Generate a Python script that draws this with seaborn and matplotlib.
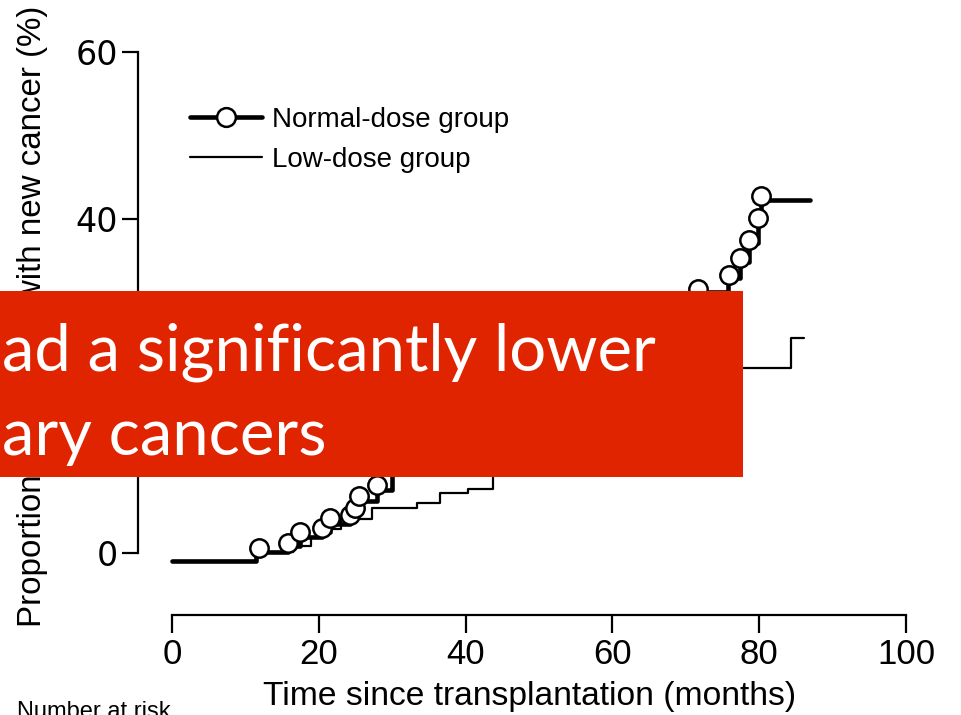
import matplotlib
matplotlib.use('Agg')
import matplotlib.pyplot as plt
import seaborn as sns
from matplotlib.lines import Line2D
from matplotlib.patches import Rectangle
from matplotlib import font_manager

sns.set_theme(style='ticks')
plt.rcParams['font.family'] = ['Liberation Sans', 'DejaVu Sans']
plt.rcParams['axes.edgecolor'] = 'black'
plt.rcParams['xtick.color'] = 'black'
plt.rcParams['ytick.color'] = 'black'
plt.rcParams['text.color'] = 'black'
plt.rcParams['axes.labelcolor'] = 'black'
plt.rcParams['xtick.labelcolor'] = 'black'
plt.rcParams['ytick.labelcolor'] = 'black'

# ---------------- data ----------------
# Normal-dose group: cumulative proportion (%) step curve
normal_time = [0, 11.5, 15.8, 17.5, 20.4, 21.5, 24.3, 24.9, 25.5, 27.9, 30.0,
               34.0, 39.5, 45.0, 51.0, 56.5, 62.0, 67.0,
               71.7, 75.8, 77.4, 78.6, 79.9, 80.3, 86.9]
normal_pct = [-1.0, 0.15, 0.8, 1.9, 2.5, 3.5, 4.0, 4.9, 6.2, 7.5, 10.0,
              12.0, 14.5, 17.0, 19.5, 22.0, 25.0, 28.0,
              31.2, 32.9, 34.9, 37.1, 39.7, 42.3, 42.3]
# circles of the normal-dose group
normal_mark_time = [11.9, 15.8, 17.5, 20.4, 21.5, 24.3, 24.9, 25.5, 27.9,
                    71.7, 75.9, 77.4, 78.6, 79.9, 80.3]
normal_mark_pct = [0.6, 1.2, 2.55, 3.0, 4.15, 4.55, 5.4, 6.8, 8.1,
                   31.6, 33.3, 35.3, 37.5, 40.1, 42.7]
# Low-dose group
low_time = [0, 11.5, 16.5, 19.0, 21.0, 23.0, 27.2, 33.4, 36.5, 40.3, 43.7,
            48.0, 53.0, 58.0, 62.0, 66.0, 70.0, 84.3, 86.1]
low_pct = [-1.0, 0.15, 0.8, 1.9, 2.9, 4.1, 5.35, 6.0, 7.2, 7.7, 9.5,
           11.5, 13.5, 15.5, 17.5, 19.5, 22.2, 25.7, 25.7]

x_ticks = [0, 20, 40, 60, 80, 100]
y_ticks = [0, 20, 40, 60]
group_labels = ['Normal-dose group', 'Low-dose group']
x_label = 'Time since transplantation (months)'
y_label = 'Proportion of patients with new cancer (%)'
risk_label = 'Number at risk'
banner_lines = ['ad a significantly lower', 'ary cancers']

# ---------------- figure ----------------
W, H = 961, 715
fig = plt.figure(figsize=(W / 100, H / 100), dpi=100)
fig.patch.set_facecolor('white')
ax = fig.add_axes([138 / W, 1 - 615 / H, (906 - 138) / W, (615 - 52) / H])
ax.set_facecolor('white')

sns.lineplot(x=low_time, y=low_pct, drawstyle='steps-post', color='black',
             linewidth=1.6, estimator=None, sort=False, ax=ax, zorder=2)
sns.lineplot(x=normal_time, y=normal_pct, drawstyle='steps-post', color='black',
             linewidth=3.3, estimator=None, sort=False, ax=ax, zorder=3)
sns.scatterplot(x=normal_mark_time, y=normal_mark_pct, s=175, color='white',
                edgecolor='black', linewidth=1.8, ax=ax, zorder=4)

ax.set_xlim(-34 / 7.34, 100)
ax.set_ylim(-62 / 8.35, 60)
ax.set_xticks(x_ticks)
ax.set_yticks(y_ticks)
ax.set_xlabel('')
ax.set_ylabel('')
for s in ['top', 'right']:
    ax.spines[s].set_visible(False)
ax.spines['left'].set_bounds(0, 60)
ax.spines['bottom'].set_bounds(0, 100)
ax.spines['left'].set_linewidth(1.6)
ax.spines['bottom'].set_linewidth(1.6)

names = {f.name for f in font_manager.fontManager.ttflist}
narrow = 'Liberation Sans Narrow' if 'Liberation Sans Narrow' in names else 'Liberation Sans'
xsize = 28 if narrow == 'Liberation Sans Narrow' else 25

ax.tick_params(axis='y', length=11.5, width=1.6, pad=2.9, labelsize=24,
               labelfontfamily='DejaVu Sans')
ax.tick_params(axis='x', length=13, width=1.6, pad=3.6, labelsize=xsize,
               labelfontfamily=narrow)

# legend
h1 = Line2D([], [], color='black', lw=3.3, marker='o', markersize=13.5,
            markerfacecolor='white', markeredgecolor='black', markeredgewidth=1.8)
h2 = Line2D([], [], color='black', lw=1.6)
leg = ax.legend([h1, h2], group_labels, loc='upper left',
                bbox_to_anchor=(190 / W, 1 - 107 / H), bbox_transform=fig.transFigure,
                frameon=False, fontsize=20, handlelength=2.6, handletextpad=0.36,
                borderpad=0, borderaxespad=0, labelspacing=0.5, numpoints=1)
for t in leg.get_texts():
    t.set_color('black')

# axis titles
fig.text(33 / W, 1 - 316 / H, y_label, rotation=90, ha='center', va='center',
         fontsize=23.9, family='Liberation Sans')
fig.text(530 / W, 1 - 697 / H, x_label, ha='center', va='center',
         fontsize=xsize - 0.8, family=narrow)
fig.text(17 / W, 1 - 701 / H, risk_label, ha='left', va='top',
         fontsize=17, family='Liberation Sans')

# red banner overlay
fig.patches.append(Rectangle((0, 1 - 477 / H), 743 / W, (477 - 291) / H,
                             transform=fig.transFigure, facecolor='#E12400',
                             edgecolor='none', zorder=10))
fig.text(2 / W, 1 - 370 / H, banner_lines[0], ha='left', va='baseline',
         color='white', fontsize=47, family='Lato', zorder=11)
fig.text(2 / W, 1 - 455 / H, banner_lines[1], ha='left', va='baseline',
         color='white', fontsize=47, family='Lato', zorder=11)

fig.savefig('out.png', dpi=100)
